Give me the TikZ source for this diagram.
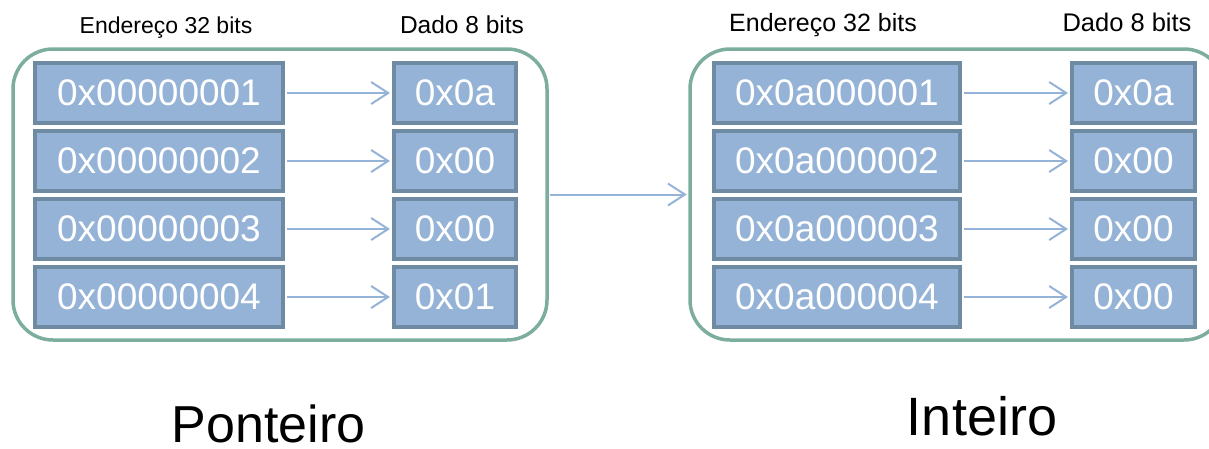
\documentclass[tikz,border=0pt]{standalone}
\usepackage{fontspec}
\setmainfont{Liberation Sans}
\usetikzlibrary{arrows.meta}
\definecolor{boxfill}{HTML}{95B3D7}
\definecolor{boxline}{HTML}{6F8AA3}
\definecolor{grpline}{HTML}{7DAD9E}
\definecolor{arrcol}{HTML}{95B3D7}
\tikzset{
  cell/.style={draw=boxline, fill=boxfill, line width=4pt, minimum height=60pt, inner sep=0pt, text=white, font=\fontsize{37}{44}\selectfont},
  addr/.style={cell, minimum width=248pt},
  datum/.style={cell, minimum width=122pt},
  grp/.style={draw=grpline, line width=3.5pt, rounded corners=40pt, minimum width=534pt, minimum height=291pt, inner sep=0pt},
  link/.style={draw=arrcol, line width=2pt, -{Straight Barb[length=17pt,width=22pt]}, shorten >=2pt, shorten <=2pt},
  lbl/.style={anchor=base, inner sep=0pt, text=black}
}
\begin{document}
\begin{tikzpicture}[x=1pt,y=-1pt]
\useasboundingbox (0,0) rectangle (1209,448);
\clip (0,0) rectangle (1209,448);
% groups
\node[grp] (L) at (280,194.5) {};
\node[grp] (R) at (957,194.5) {};
% headers
\node[lbl, font=\fontsize{23}{27}\selectfont] (hLa) at (166,33) {Endereço 32 bits};
\node[lbl, font=\fontsize{24.5}{28}\selectfont] (hLd) at (462,33) {Dado 8 bits};
\node[lbl, font=\fontsize{25}{29}\selectfont] (hRa) at (823,31) {Endereço 32 bits};
\node[lbl, font=\fontsize{25.5}{29}\selectfont] (hRd) at (1127,31) {Dado 8 bits};
% left cells
\node[addr] (la1) at (159,93) {0x00000001};
\node[addr] (la2) at (159,161) {0x00000002};
\node[addr] (la3) at (159,229) {0x00000003};
\node[addr] (la4) at (159,297) {0x00000004};
\node[datum] (ld1) at (455,93) {0x0a};
\node[datum] (ld2) at (455,161) {0x00};
\node[datum] (ld3) at (455,229) {0x00};
\node[datum] (ld4) at (455,297) {0x01};
% right cells
\node[addr, minimum width=246pt] (ra1) at (837,93) {0x0a000001};
\node[addr, minimum width=246pt] (ra2) at (837,161) {0x0a000002};
\node[addr, minimum width=246pt] (ra3) at (837,229) {0x0a000003};
\node[addr, minimum width=246pt] (ra4) at (837,297) {0x0a000004};
\node[datum, minimum width=123pt] (rd1) at (1133.5,93) {0x0a};
\node[datum, minimum width=123pt] (rd2) at (1133.5,161) {0x00};
\node[datum, minimum width=123pt] (rd3) at (1133.5,229) {0x00};
\node[datum, minimum width=123pt] (rd4) at (1133.5,297) {0x00};
% links
\foreach \i in {1,2,3,4} {
  \draw[link] (la\i.east) -- (ld\i.west);
  \draw[link] (ra\i.east) -- (rd\i.west);
}
\draw[link, shorten <=1.5pt, shorten >=1.5pt] (L.east) -- (R.west);
% captions
\node[lbl, font=\fontsize{52}{60}\selectfont] (cap1) at (268.5,442) {Ponteiro};
\node[lbl, font=\fontsize{54}{62}\selectfont] (cap2) at (982,435) {Inteiro};
\end{tikzpicture}
\end{document}
